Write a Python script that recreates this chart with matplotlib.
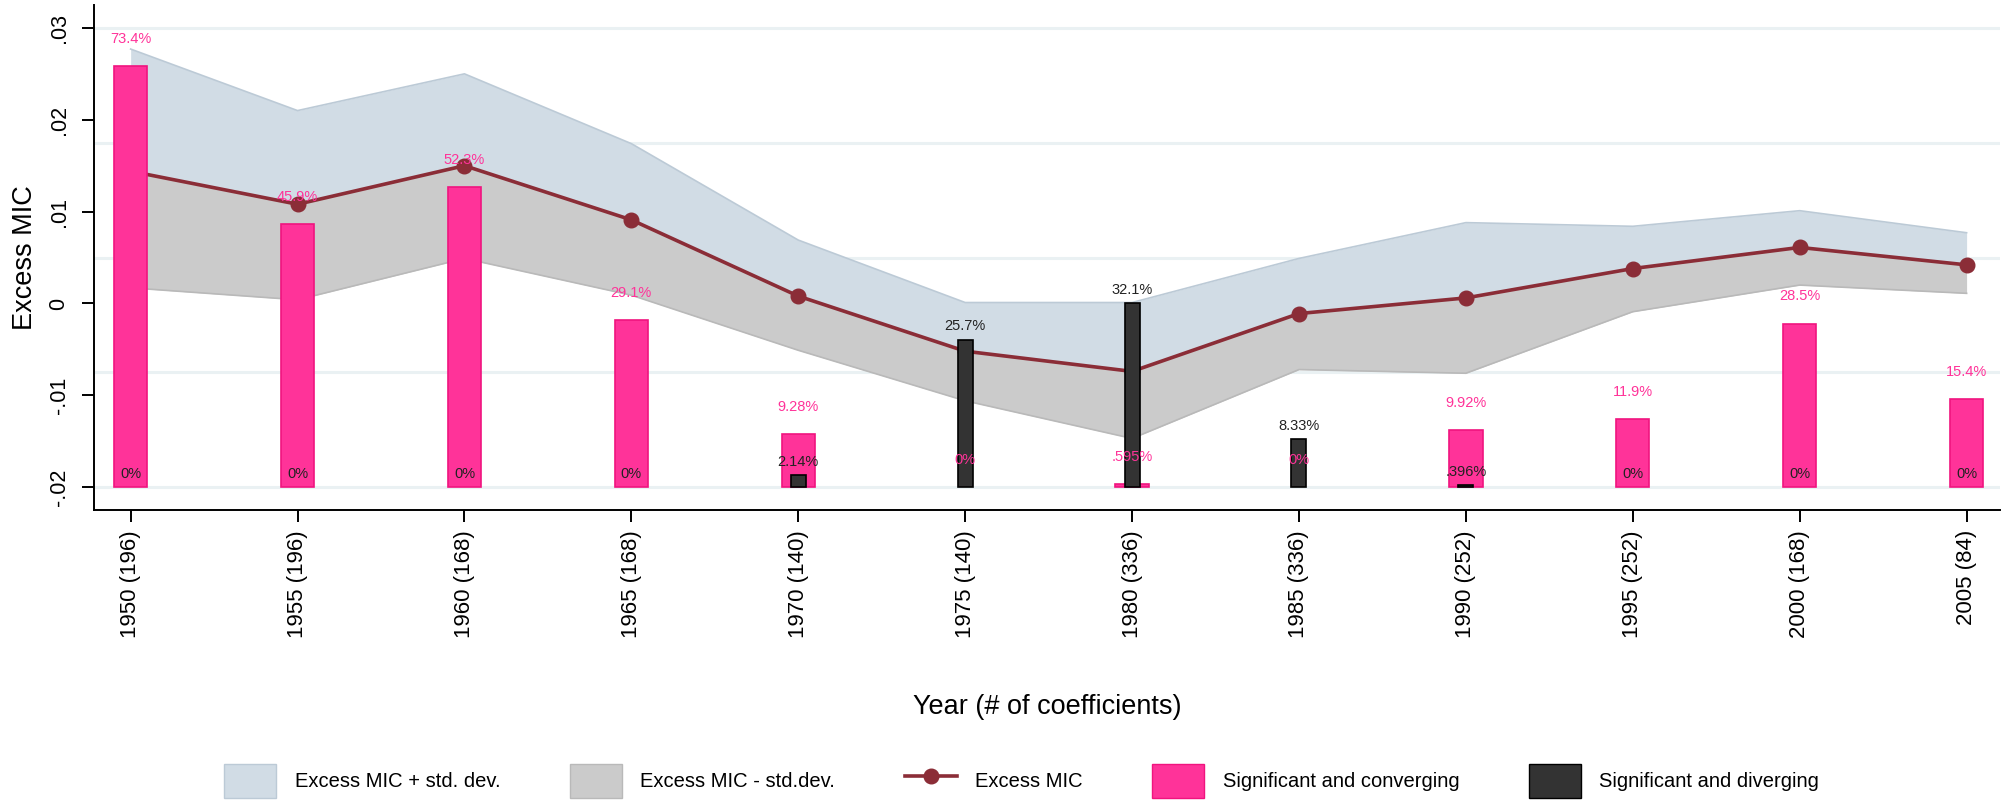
import matplotlib
matplotlib.use("Agg")
import matplotlib.pyplot as plt
from matplotlib.patches import Patch
from matplotlib.lines import Line2D
import numpy as np

plt.rcParams['font.family'] = ['Liberation Sans', 'DejaVu Sans']

# ' Data
years = [1950, 1955, 1960, 1965, 1970, 1975, 1980, 1985, 1990, 1995, 2000, 2005]
n_coef = [196, 196, 168, 168, 140, 140, 336, 336, 252, 252, 168, 84]

excess_mic = [0.0144, 0.0108, 0.0150, 0.0091, 0.0008, -0.0052, -0.0074,
              -0.0011, 0.0006, 0.0038, 0.0061, 0.0042]
mic_plus_sd = [0.0277, 0.0210, 0.0250, 0.0174, 0.0069, 0.0001, 0.0001,
               0.0049, 0.0088, 0.0084, 0.0101, 0.0077]
mic_minus_sd = [0.0017, 0.0004, 0.0049, 0.0009, -0.0051, -0.0106, -0.0147,
                -0.0072, -0.0076, -0.0009, 0.0020, 0.0011]

# share of coefficients (%)
sig_converging = [73.4, 45.9, 52.3, 29.1, 9.28, 0, 0.595, 0, 9.92, 11.9, 28.5, 15.4]
sig_diverging = [0, 0, 0, 0, 2.14, 25.7, 32.1, 8.33, 0.396, 0, 0, 0]

# ' Colours
BLUE_FILL = '#d1dce5'
BLUE_EDGE = '#bccad6'
GREY_FILL = '#cbcbcb'
GREY_EDGE = '#b9b9b9'
PINK = '#ff3399'
PINK_EDGE = '#f0147f'
DARK = '#333333'
MAROON = '#8b2d37'
GRID = '#eaf1f3'

tick_labels = [f"{yr} ({cnt})" for yr, cnt in zip(years, n_coef)]
x = np.arange(len(years))


def pct_label(v):
    s = f"{v:.3g}"
    if s.startswith('0.'):
        s = s[1:]
    return s + '%'


fig = plt.figure(figsize=(20.07, 8.02), dpi=100)
ax = fig.add_axes([0.0468, 0.364, 0.9497, 0.6298])
ax2 = ax.twinx()

# primary axis: Excess MIC
ylo, yhi = -0.0225, 0.0325
ax.set_ylim(ylo, yhi)
ax.set_xlim(-0.22, 11.2)
# secondary axis: % of coefficients, 0 at -.02 and 80 at .03
ax2.set_ylim((ylo + 0.02) / 0.05 * 80, (yhi + 0.02) / 0.05 * 80)

# gridlines follow the hidden % axis (0..80 by 20), drawn under the bands
for g in [0, 20, 40, 60, 80]:
    ax.axhline(-0.02 + g / 80 * 0.05, color=GRID, lw=2.2, zorder=0)

ax.set_zorder(1)
ax2.set_zorder(2)
ax.patch.set_visible(False)
ax2.patch.set_visible(False)

# bands and line
ax.fill_between(x, excess_mic, mic_plus_sd, color=BLUE_FILL, lw=0, zorder=1)
ax.plot(x, mic_plus_sd, color=BLUE_EDGE, lw=1.2, zorder=1.1)
ax.fill_between(x, mic_minus_sd, excess_mic, color=GREY_FILL, lw=0, zorder=1)
ax.plot(x, mic_minus_sd, color=GREY_EDGE, lw=1.2, zorder=1.1)
ax.plot(x, excess_mic, color=MAROON, lw=2.6, marker='o', ms=10.5, zorder=2)

# bars (no outline on empty bars)
ax2.bar(x, sig_converging, width=0.2, color=PINK, edgecolor=PINK_EDGE,
        linewidth=[1.2 if v > 0 else 0 for v in sig_converging], zorder=3)
ax2.bar(x, sig_diverging, width=0.09, color=DARK, edgecolor='black',
        linewidth=[1.2 if v > 0 else 0 for v in sig_diverging], zorder=4)

for xi, v in zip(x, sig_converging):
    ax2.annotate(pct_label(v), (xi, v), xytext=(0, 19.5), textcoords='offset points',
                 ha='center', va='center', fontsize=10.5, color=PINK, zorder=6)
for xi, v in zip(x, sig_diverging):
    ax2.annotate(pct_label(v), (xi, v), xytext=(0, 9.5), textcoords='offset points',
                 ha='center', va='center', fontsize=10.5, color='#222222', zorder=6)

# axes styling
ax2.set_yticks([])
for side in ['top', 'right']:
    ax.spines[side].set_visible(False)
    ax2.spines[side].set_visible(False)
ax2.spines['left'].set_visible(False)
ax2.spines['bottom'].set_visible(False)
ax.spines['left'].set_linewidth(1.4)
ax.spines['bottom'].set_linewidth(1.4)

ax.set_yticks([-0.02, -0.01, 0, 0.01, 0.02, 0.03])
ax.set_yticklabels(['-.02', '-.01', '0', '.01', '.02', '.03'], rotation=90,
                   va='center', fontsize=15.5)
ax.tick_params(axis='y', length=8.5, width=1.4, pad=9)
ax.set_xticks(x)
ax.set_xticklabels(tick_labels, rotation=90, fontsize=16)
ax.tick_params(axis='x', length=8.5, width=1.4, pad=6)

ax.set_ylabel('Excess MIC', fontsize=19.5, labelpad=8)
ax.set_xlabel('Year (# of coefficients)', fontsize=19.5, labelpad=40)

handles = [
    Patch(facecolor=BLUE_FILL, edgecolor=BLUE_EDGE, label='Excess MIC + std. dev.'),
    Patch(facecolor=GREY_FILL, edgecolor=GREY_EDGE, label='Excess MIC - std.dev.'),
    Line2D([0], [0], color=MAROON, lw=2.6, marker='o', ms=10.5, label='Excess MIC'),
    Patch(facecolor=PINK, edgecolor=PINK_EDGE, label='Significant and converging'),
    Patch(facecolor=DARK, edgecolor='black', label='Significant and diverging'),
]
fig.legend(handles=handles, loc='center', bbox_to_anchor=(0.509, 0.026), ncol=5,
           frameon=False, fontsize=14.5, handlelength=2.6, handleheight=2.2,
           handletextpad=0.9, columnspacing=3.45)

fig.savefig('out.png', dpi=100)
